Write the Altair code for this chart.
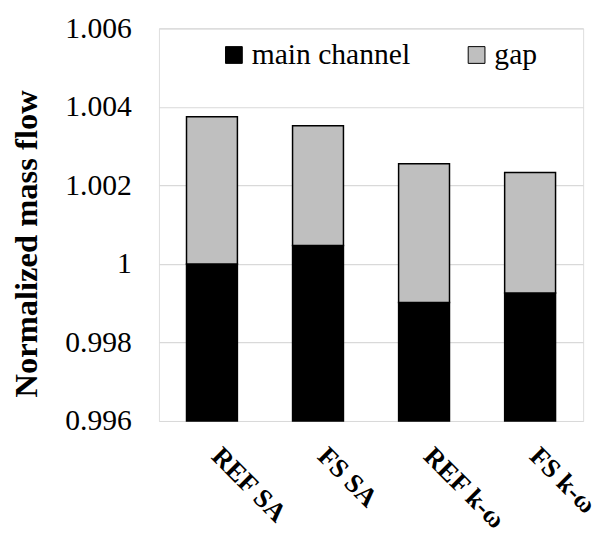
import altair as alt
import pandas as pd

categories = ["REF SA", "FS SA", "REF k-ω", "FS k-ω"]
main_channel = [1.0, 1.00047, 0.99902, 0.99926]
gap = [0.00375, 0.00305, 0.00353, 0.00307]
axis_min = 0.996
y_ticks = [0.996, 0.998, 1.0, 1.002, 1.004, 1.006]
series_names = ["main channel", "gap"]

rows = []
for c, m, g in zip(categories, main_channel, gap):
    rows.append({"cat": c, "series": "main channel", "lo": axis_min, "hi": m})
    rows.append({"cat": c, "series": "gap", "lo": m, "hi": m + g})
df = pd.DataFrame(rows)

FONT = "Liberation Serif"

chart = alt.Chart(df).mark_bar(stroke="black", strokeWidth=1.5).encode(
    x=alt.X("cat:N", sort=categories, title=None,
            scale=alt.Scale(paddingInner=0.52, paddingOuter=0.26),
            axis=alt.Axis(labelAngle=45, labelAlign="left", labelBaseline="top",
                          labelFont=FONT, labelFontSize=27, labelFontWeight="bold",
                          labelColor="black", labelPadding=22, labelOffset=13,
                          labelLimit=300, ticks=False, domain=False, grid=False)),
    y=alt.Y("hi:Q", title="Normalized mass flow",
            scale=alt.Scale(domain=[0.996, 1.006], zero=False, nice=False),
            axis=alt.Axis(values=y_ticks, format="~g", ticks=False, domain=False,
                          labelFont=FONT, labelFontSize=30, labelColor="black",
                          labelPadding=28, gridColor="#d9d9d9", gridWidth=1.2,
                          titleFont=FONT, titleFontSize=33, titleFontWeight="bold",
                          titleColor="black", titlePadding=22, titleY=218)),
    y2="lo:Q",
    fill=alt.Fill("series:N",
                  scale=alt.Scale(domain=series_names, range=["#000000", "#bfbfbf"]),
                  legend=alt.Legend(title=None, orient="none", direction="horizontal",
                                    legendX=61, legendY=12, symbolType="square",
                                    symbolSize=289, symbolStrokeColor="black",
                                    symbolStrokeWidth=1, labelFont=FONT,
                                    labelFontSize=30, labelColor="black",
                                    labelOffset=3, labelLimit=400,
                                    columnPadding=52, padding=0)),
    order=alt.Order("series:N", sort="descending"),
).properties(
    width=430,
    height=398,
    autosize=alt.AutoSizeParams(type="none"),
    padding={"left": 153, "top": 17, "right": 9, "bottom": 117},
).configure_view(
    stroke="#c8c8c8", strokeWidth=1.5
).configure(background="white")

chart.save("out.html", embed_options={"renderer": "svg", "actions": False})
